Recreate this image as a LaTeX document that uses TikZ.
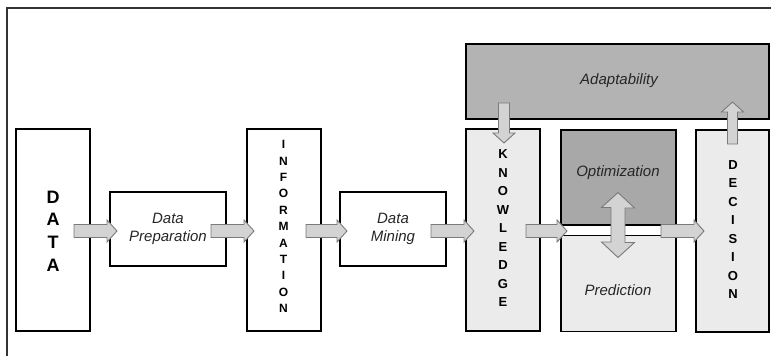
\documentclass[tikz,border=0pt]{standalone}
\usepackage{fontspec}
\setmainfont{Liberation Sans}
\usetikzlibrary{calc}
\definecolor{frameC}{HTML}{333333}
\definecolor{adaptC}{HTML}{B3B3B3}
\definecolor{optC}{HTML}{A8A8A8}
\definecolor{lightC}{HTML}{EBEBEB}
\definecolor{arrowF}{HTML}{D3D3D3}
\definecolor{arrowD}{HTML}{7A7A7A}
\tikzset{
  box/.style={draw=black, line width=1.3pt, rectangle, anchor=north west, inner sep=0pt, outer sep=0pt},
  bigletters/.style={font=\bfseries\fontsize{18}{22.6}\selectfont, align=center, inner sep=0pt},
  midletters/.style={font=\bfseries\fontsize{12}{16.4}\selectfont, align=center, inner sep=0pt},
  kletters/.style={font=\bfseries\fontsize{13}{18.5}\selectfont, align=center, inner sep=0pt},
  itlabel/.style={font=\itshape\fontsize{15}{17.5}\selectfont, align=center, inner sep=0pt, text=black!85},
  blockarrow/.style={fill=arrowF, draw=arrowD, line width=0.9pt, line join=miter},
}
% block arrow from #1 to #2, body half width #3, head half width #4, head length #5
\newcommand\barrow[5]{%
  \path (#2) coordinate (bT) ($(#2)!#5!(#1)$) coordinate (bH) (#1) coordinate (bS);
  \filldraw[blockarrow] ($(bS)!#3!90:(bT)$) -- ($(bH)!#3!-90:(bS)$) -- ($(bH)!#4!-90:(bS)$) -- (bT)
     -- ($(bH)!#4!90:(bS)$) -- ($(bH)!#3!90:(bS)$) -- ($(bS)!#3!-90:(bT)$) -- cycle;}
\begin{document}
\begin{tikzpicture}[x=1pt,y=-1pt]
\useasboundingbox (0,0) rectangle (771,356);
% frame
\draw[frameC, line width=1.8pt] (7,356) -- (7,8) -- (771,8);
% boxes
\node[box, minimum width=74pt, minimum height=202pt] (data) at (16,129) {};
\node[box, minimum width=116pt, minimum height=74pt] (prep) at (110,192) {};
\node[box, minimum width=74pt, minimum height=202pt] (info) at (247,129) {};
\node[box, minimum width=106pt, minimum height=74pt] (mining) at (340,192) {};
\node[box, fill=adaptC, minimum width=303pt, minimum height=75pt] (adapt) at (466,44) {};
\node[box, fill=lightC, minimum width=74pt, minimum height=202pt] (know) at (466,129) {};
\node[box, fill=optC, minimum width=115pt, minimum height=95pt] (opt) at (561,130) {};
\node[box, fill=lightC, minimum width=115pt, minimum height=96pt] (pred) at (561,235.5) {};
\node[box, fill=lightC, minimum width=73pt, minimum height=202pt] (dec) at (696,130) {};
% texts
\node[bigletters] (tdata) at (53,231) {D\\A\\T\\A};
\node[itlabel] (tprep) at (168,229) {Data\\Preparation};
\node[midletters] (tinfo) at (283.5,226.5) {I\\N\\F\\O\\R\\M\\A\\T\\I\\O\\N};
\node[itlabel] (tmining) at (393,229) {Data\\Mining};
\node[itlabel] (tadapt) at (619,81) {Adaptability};
\node[kletters] (tknow) at (503,228.5) {K\\N\\O\\W\\L\\E\\D\\G\\E};
\node[itlabel] (topt) at (618,173) {Optimization};
\node[itlabel] (tpred) at (618,290) {Prediction};
\node[kletters] (tdec) at (733,229.5) {D\\E\\C\\I\\S\\I\\O\\N};
% arrows
\coordinate (mid) at (0,231);
\coordinate (a1s) at ($(data.east |- mid)+(-16,0)$);
\coordinate (a1e) at ($(prep.west |- mid)+(7,0)$);
\barrow{a1s}{a1e}{6.5pt}{11pt}{10pt}
\coordinate (a2s) at ($(prep.east |- mid)+(-15,0)$);
\coordinate (a2e) at ($(info.west |- mid)+(7,0)$);
\barrow{a2s}{a2e}{6.5pt}{11pt}{10pt}
\coordinate (a3s) at ($(info.east |- mid)+(-15,0)$);
\coordinate (a3e) at ($(mining.west |- mid)+(7,0)$);
\barrow{a3s}{a3e}{6.5pt}{11pt}{10pt}
\coordinate (a4s) at ($(mining.east |- mid)+(-15,0)$);
\coordinate (a4e) at ($(know.west |- mid)+(8,0)$);
\barrow{a4s}{a4e}{6.5pt}{11pt}{10pt}
\coordinate (a5s) at ($(know.east |- mid)+(-14,0)$);
\coordinate (a5e) at ($(opt.west |- mid)+(6,0)$);
\barrow{a5s}{a5e}{6.5pt}{11pt}{10pt}
\coordinate (a6s) at ($(opt.east |- mid)+(-15,0)$);
\coordinate (a6e) at ($(dec.west |- mid)+(8,0)$);
\barrow{a6s}{a6e}{6.5pt}{11pt}{10pt}
% adaptability -> knowledge
\coordinate (a7s) at ($(adapt.south -| know.center)+(1,-16)$);
\coordinate (a7e) at ($(know.north)+(1,14)$);
\barrow{a7s}{a7e}{5.5pt}{11pt}{10pt}
% decision -> adaptability
\coordinate (a8s) at ($(dec.north)+(0,14)$);
\coordinate (a8e) at ($(adapt.south -| dec.center)+(0,-17)$);
\barrow{a8s}{a8e}{5pt}{11pt}{10pt}
% double arrow optimization <-> prediction
\coordinate (dTop) at (618,192.5);
\coordinate (dBot) at (618,257.5);
\filldraw[blockarrow] (dTop) -- ++(16.5,15.5) -- ++(-9.5,0) -- ++(0,34.5) -- ++(9.5,0) -- (dBot)
  -- ++(-16.5,-15.5) -- ++(9.5,0) -- ++(0,-34.5) -- ++(-9.5,0) -- cycle;
\end{tikzpicture}
\end{document}
